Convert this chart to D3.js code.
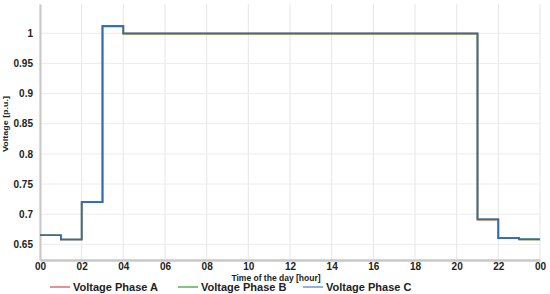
<!DOCTYPE html>
<html>
<head>
<meta charset="utf-8">
<script src="https://cdn.jsdelivr.net/npm/d3@7"></script>
<style>
  body { margin: 0; background: #fff; }
  svg { display: block; font-family: "Liberation Sans", Arial, sans-serif; }
</style>
</head>
<body>
<svg id="chart" width="550" height="294"></svg>
<script>
// hourly step values, one per hour (00..23), last repeated to close at 24
const hours = d3.range(0, 25);
const phaseA = [0.665, 0.658, 0.720, 1.012, 0.9995, 0.9995, 0.9995, 0.9995, 0.9995, 0.9995, 0.9995, 0.9995,
  0.9995, 0.9995, 0.9995, 0.9995, 0.9995, 0.9995, 0.9995, 0.9995, 0.9995, 0.691, 0.660, 0.658, 0.658];
const phaseB = [0.665, 0.658, 0.720, 1.0125, 0.9993, 0.9993, 0.9993, 0.9993, 0.9993, 0.9993, 0.9993, 0.9993,
  0.9993, 0.9993, 0.9993, 0.9993, 0.9993, 0.9993, 0.9993, 0.9993, 0.9993, 0.6912, 0.6602, 0.6582, 0.6582];
const phaseC = [0.665, 0.658, 0.720, 1.0115, 1.0, 1.0, 1.0, 1.0, 1.0, 1.0, 1.0, 1.0,
  1.0, 1.0, 1.0, 1.0, 1.0, 1.0, 1.0, 1.0, 1.0, 0.6915, 0.6603, 0.6583, 0.6583];
const seriesNames = ["Voltage Phase A", "Voltage Phase B", "Voltage Phase C"];
const xTicks = d3.range(0, 25, 2);
const yTicks = [0.65, 0.7, 0.75, 0.8, 0.85, 0.9, 0.95, 1];

const colors = ["#e0474c", "#3b9a3b", "#2f6db3"];
const legendColors = ["#e89090", "#7fc77f", "#8fb3d6"];

const svg = d3.select("#chart");
const x = d3.scaleLinear().domain([0, 24]).range([40, 540]);
const y = d3.scaleLinear().domain([0.624, 1.0486]).range([260, 4]);

// grid
svg.append("g")
  .selectAll("line")
  .data(xTicks)
  .join("line")
  .attr("x1", d => x(d)).attr("x2", d => x(d))
  .attr("y1", y.range()[1]).attr("y2", y.range()[0])
  .attr("stroke", "#e6e6e6").attr("stroke-width", 1);

svg.append("g")
  .selectAll("line")
  .data(yTicks)
  .join("line")
  .attr("x1", x.range()[0]).attr("x2", x.range()[1])
  .attr("y1", d => y(d)).attr("y2", d => y(d))
  .attr("stroke", "#ececec").attr("stroke-width", 1);

// axes
const xAxis = svg.append("g")
  .attr("transform", `translate(0,${y.range()[0]})`)
  .call(d3.axisBottom(x).tickValues(xTicks).tickSize(0).tickPadding(3)
    .tickFormat(d => String(d % 24).padStart(2, "0")));
xAxis.select(".domain").attr("stroke", "#c8c8c8").attr("stroke-width", 2.5);
xAxis.selectAll("text")
  .attr("font-size", 10).attr("font-weight", "bold").attr("fill", "#222")
  .attr("font-family", "Liberation Sans, Arial, sans-serif");

const yAxis = svg.append("g")
  .attr("transform", `translate(${x.range()[0]},0)`)
  .call(d3.axisLeft(y).tickValues(yTicks).tickSize(0).tickPadding(7)
    .tickFormat(d3.format("~g")));
yAxis.select(".domain").attr("stroke", "#c8c8c8").attr("stroke-width", 2);
yAxis.selectAll("text")
  .attr("font-size", 10).attr("font-weight", "bold").attr("fill", "#222")
  .attr("font-family", "Liberation Sans, Arial, sans-serif");

// axis titles
svg.append("text")
  .attr("x", 276).attr("y", 280.5)
  .attr("text-anchor", "middle")
  .attr("font-size", 8.5).attr("font-weight", "bold").attr("fill", "#222")
  .text("Time of the day [hour]");

svg.append("text")
  .attr("transform", "translate(8,124) rotate(-90)")
  .attr("text-anchor", "middle")
  .attr("font-size", 8).attr("font-weight", "bold").attr("fill", "#222")
  .attr("textLength", 56).attr("lengthAdjust", "spacingAndGlyphs")
  .text("Voltage [p.u.]");

// lines
const line = d3.line()
  .x((d, i) => x(hours[i]))
  .y(d => y(d))
  .curve(d3.curveStepAfter);

[phaseA, phaseB, phaseC].forEach((s, i) => {
  svg.append("path")
    .datum(s)
    .attr("fill", "none")
    .attr("stroke", colors[i])
    .attr("stroke-width", 1.6)
    .attr("d", line);
});

// legend
const legendX = [50, 178, 303];
const legend = svg.append("g");
seriesNames.forEach((name, i) => {
  legend.append("line")
    .attr("x1", legendX[i]).attr("x2", legendX[i] + 20)
    .attr("y1", 287).attr("y2", 287)
    .attr("stroke", legendColors[i]).attr("stroke-width", 2);
  legend.append("text")
    .attr("x", legendX[i] + 23).attr("y", 291)
    .attr("font-size", 11).attr("font-weight", "bold").attr("fill", "#222")
    .text(name);
});
</script>
</body>
</html>
